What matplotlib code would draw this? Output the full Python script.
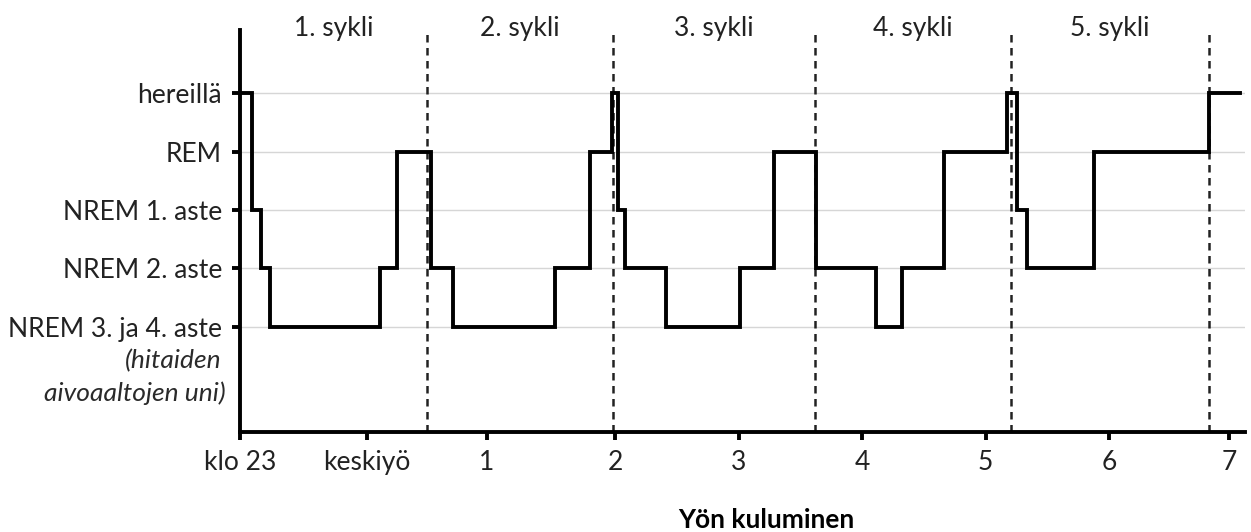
import matplotlib
matplotlib.use('Agg')
import matplotlib.pyplot as plt

plt.rcParams['font.family'] = ['Lato', 'DejaVu Sans']

# sleep stages, bottom to top
stage_labels = ['NREM 3. ja 4. aste', 'NREM 2. aste', 'NREM 1. aste', 'REM', 'hereillä']
stage_levels = [1, 2, 3, 4, 5]

# hours after 23:00 when the stage changes, and the stage entered
change_hours = [0.0, 0.10, 0.17, 0.24, 1.12, 1.26, 1.53, 1.71, 2.53, 2.81,
                2.98, 3.03, 3.09, 3.42, 4.01, 4.28, 4.62, 5.10, 5.31, 5.65,
                6.15, 6.23, 6.31, 6.85, 7.77]
stages = [5, 3, 2, 1, 2, 4, 2, 1, 2, 4,
          5, 3, 2, 1, 2, 4, 2, 1, 2, 4,
          5, 3, 2, 4, 5]
end_hour = 8.02

cycle_bounds = [0.0, 1.50, 2.99, 4.61, 6.18, 7.77]
cycle_labels = ['1. sykli', '2. sykli', '3. sykli', '4. sykli', '5. sykli']

tick_hours = [0, 1.02, 1.98, 3.01, 4.0, 4.99, 5.98, 6.97, 7.93]
tick_labels = ['klo 23', 'keskiyö', '1', '2', '3', '4', '5', '6', '7']

fs = 19

fig = plt.figure(figsize=(12.51, 5.32), dpi=100)
ax = fig.add_axes([0.1918, 0.1885, 0.8034, 0.7555])

ax.set_xlim(0, 8.06)
ax.set_ylim(-0.80, 6.09)

# light horizontal guides
for lv in stage_levels:
    ax.axhline(lv, color='#d6d6d6', lw=1.0, zorder=0)

# cycle boundaries
for b in cycle_bounds[1:]:
    ax.axvline(b, color='#222222', lw=1.8, dashes=(3.0, 2.2), zorder=1)

# hypnogram
xs = change_hours + [end_hour]
ys = stages + [stages[-1]]
ax.step(xs, ys, where='post', color='black', lw=2.8, zorder=3,
        solid_joinstyle='miter')

for i, lab in enumerate(cycle_labels):
    mid = (cycle_bounds[i] + cycle_bounds[i + 1]) / 2
    ax.text(mid, 6.12, lab, ha='center', va='center', fontsize=fs,
            color='#222222', clip_on=False)

ax.set_yticks(stage_levels)
ax.set_yticklabels(stage_labels, fontsize=fs, color='#222222')
ax.set_xticks(tick_hours)
ax.set_xticklabels(tick_labels, fontsize=fs, color='#222222')

# extra italic note under the deepest stage
ax.annotate('(hitaiden', xy=(0, 1), xycoords=('axes fraction', 'data'),
            xytext=(-13, -24.5), textcoords='offset points', ha='right',
            va='center', fontsize=fs, style='italic', color='#2a2a2a')
ax.annotate('aivoaaltojen uni)', xy=(0, 1), xycoords=('axes fraction', 'data'),
            xytext=(-10, -47.5), textcoords='offset points', ha='right',
            va='center', fontsize=fs, style='italic', color='#2a2a2a')

for s in ['top', 'right']:
    ax.spines[s].set_visible(False)
for s in ['left', 'bottom']:
    ax.spines[s].set_linewidth(2.8)
ax.tick_params(axis='both', length=6, width=2.8, direction='out', pad=7)

fig.text(766 / 1251, 1 - 520 / 532, 'Yön kuluminen', ha='center', va='center',
         fontsize=19, fontweight='bold', color='black')

fig.savefig('out.png', dpi=100, facecolor='white')
